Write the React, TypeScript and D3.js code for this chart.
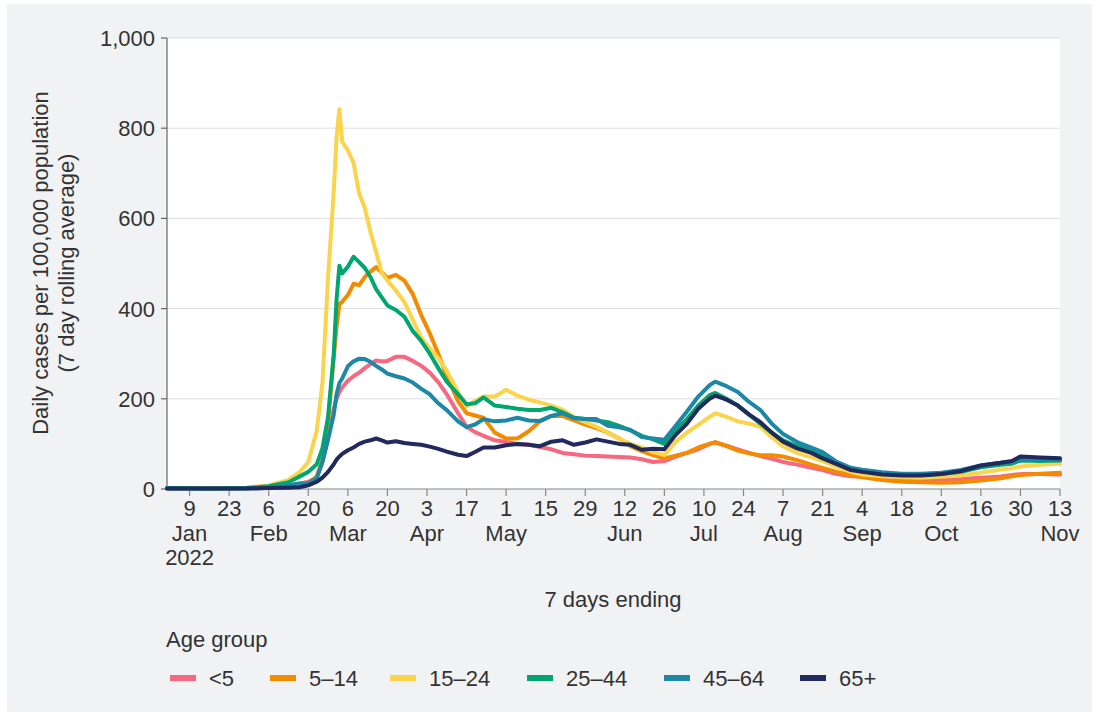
import React from "react";
import * as d3 from "d3";

const dates = ["2022-01-01","2022-01-15","2022-01-29",
"2022-02-06","2022-02-13","2022-02-17","2022-02-20","2022-02-23","2022-02-25","2022-02-27",
"2022-03-01","2022-03-02","2022-03-03","2022-03-04","2022-03-06","2022-03-08","2022-03-10","2022-03-12","2022-03-14","2022-03-16","2022-03-18","2022-03-20","2022-03-23","2022-03-26","2022-03-29",
"2022-04-01","2022-04-04","2022-04-07","2022-04-10","2022-04-14","2022-04-17","2022-04-20","2022-04-23","2022-04-27",
"2022-05-01","2022-05-05","2022-05-09","2022-05-13","2022-05-17","2022-05-21","2022-05-25","2022-05-29",
"2022-06-02","2022-06-06","2022-06-10","2022-06-14","2022-06-18","2022-06-22","2022-06-26","2022-06-30",
"2022-07-04","2022-07-08","2022-07-12","2022-07-14","2022-07-18","2022-07-22","2022-07-26","2022-07-30",
"2022-08-03","2022-08-07","2022-08-12","2022-08-17","2022-08-21","2022-08-26","2022-08-31",
"2022-09-04","2022-09-11","2022-09-18","2022-09-25",
"2022-10-02","2022-10-09","2022-10-16","2022-10-23","2022-10-27","2022-10-30",
"2022-11-06","2022-11-13"];

const under5 = [1,1,2,
4,8,12,16,25,60,115,
178,200,215,225,240,250,258,268,277,285,283,284,293,293,284,
273,258,237,210,168,138,126,118,108,
104,100,98,93,88,80,77,74,
73,72,71,70,66,60,62,72,
80,88,100,103,96,88,80,73,
67,60,54,47,42,33,28,
27,24,22,20,
20,22,25,28,31,33,
33,32];

const age5to14 = [2,1,2,
4,8,11,13,28,65,150,
290,360,410,415,430,455,452,470,482,492,480,468,475,462,432,
385,345,300,250,195,168,163,158,125,
112,112,128,150,162,162,152,143,
135,125,112,95,84,75,68,74,
80,92,100,104,95,85,79,75,
75,72,64,54,47,38,31,
26,20,16,15,
14,15,19,24,28,31,
34,36];

const age15to24 = [3,2,3,
8,20,38,60,130,235,470,
660,780,842,770,751,723,655,623,570,525,479,462,440,415,375,
335,312,290,262,215,183,195,205,205,
220,207,198,192,185,176,160,148,
138,125,112,100,92,82,75,105,
125,142,160,168,160,150,145,138,
115,95,80,70,62,49,38,
32,28,26,25,
27,30,36,43,46,50,
54,56];

const age25to44 = [2,1,2,
6,15,28,38,55,90,160,
300,420,495,478,493,515,503,490,470,443,425,407,397,382,350,
328,300,268,238,210,188,190,203,185,
182,178,175,175,180,170,158,155,
152,148,140,130,118,110,100,130,
155,185,208,213,200,185,165,145,
125,108,95,85,75,58,45,
40,34,31,31,
33,38,48,54,56,63,
62,63];

const age45to64 = [1,1,1,
3,8,12,13,24,60,110,
165,210,235,245,272,283,289,288,282,273,265,256,250,245,236,
222,210,190,175,150,137,143,155,150,
152,158,152,151,162,168,157,155,
155,140,137,131,115,112,109,140,
172,205,230,238,228,215,193,175,
145,122,104,92,82,60,47,
43,37,34,34,
36,42,52,58,60,66,
65,64];

const age65plus = [1,1,1,
2,3,4,8,16,25,38,
55,65,72,78,86,92,100,105,108,112,108,103,106,102,100,
98,94,89,83,76,73,82,92,92,
97,100,98,95,105,108,98,103,
110,105,100,98,87,89,88,120,
145,178,200,207,198,185,165,148,
125,105,90,80,68,55,42,
38,32,30,30,
33,40,52,58,62,72,
70,68];

const seriesNames = ["<5", "5\u201314", "15\u201324", "25\u201344", "45\u201364", "65+"];
const seriesColors = ["#f6687f", "#f28b00", "#fbd44b", "#00a66f", "#1d87a6", "#212a5c"];
const seriesValues = [under5, age5to14, age15to24, age25to44, age45to64, age65plus];

const yTicks = [0, 200, 400, 600, 800, 1000];
const xTickDates = ["2022-01-09","2022-01-23","2022-02-06","2022-02-20","2022-03-06","2022-03-20","2022-04-03","2022-04-17","2022-05-01","2022-05-15","2022-05-29","2022-06-12","2022-06-26","2022-07-10","2022-07-24","2022-08-07","2022-08-21","2022-09-04","2022-09-18","2022-10-02","2022-10-16","2022-10-30","2022-11-13"];
const monthLabels = ["Jan","Feb","Mar","Apr","May","Jun","Jul","Aug","Sep","Oct","Nov"];

const FONT = "'Liberation Sans', Arial, Helvetica, sans-serif";

export default function App() {
  const W = 1099, H = 713;
  const left = 167, right = 1060, top = 38, bottom = 489;
  const parse = d3.utcParse("%Y-%m-%d");
  const x = d3.scaleUtc().domain([parse("2022-01-01")!, parse("2022-11-13")!]).range([left, right]);
  const y = d3.scaleLinear().domain([0, 1000]).range([bottom, top]);
  const parsedDates = dates.map((d) => parse(d)!);
  const line = d3.line<number>().x((_, i) => x(parsedDates[i])).y((v) => y(v));

  const seenMonths = new Set<number>();
  const textColor = "#333";
  const legendX = [170, 270, 390, 527, 664, 800];

  return (
    <svg width={W} height={H} style={{ position: "absolute", left: 0, top: 0, fontFamily: FONT }}>
      <rect x={0} y={0} width={W} height={H} fill="#ffffff" />
      <rect x={7} y={4} width={1085} height={708} fill="#f1f2f4" />
      <rect x={left} y={top} width={right - left} height={bottom - top} fill="#ffffff" />
      {yTicks.filter((t) => t > 0).map((t) => (
        <line key={"g" + t} x1={left} x2={right} y1={y(t)} y2={y(t)} stroke="#dedede" strokeWidth={1} />
      ))}
      <line x1={left} x2={left} y1={top} y2={bottom} stroke="#666" strokeWidth={1.2} />
      {yTicks.map((t) => (
        <g key={"yt" + t}>
          <line x1={left - 6} x2={left} y1={y(t)} y2={y(t)} stroke="#666" strokeWidth={1.2} />
          <text x={left - 12} y={y(t)} dy="0.36em" textAnchor="end" fontSize={22} fill={textColor}>
            {d3.format(",")(t)}
          </text>
        </g>
      ))}
      <line x1={left} x2={right} y1={bottom} y2={bottom} stroke="#888" strokeWidth={1.2} />
      {xTickDates.map((ds) => {
        const d = parse(ds)!;
        const m = d.getUTCMonth();
        const first = !seenMonths.has(m);
        seenMonths.add(m);
        const xp = x(d);
        return (
          <g key={ds}>
            <line x1={xp} x2={xp} y1={bottom} y2={bottom + 7} stroke="#888" strokeWidth={1.2} />
            <text x={xp} y={516} textAnchor="middle" fontSize={22} fill={textColor}>{d.getUTCDate()}</text>
            {first && (
              <text x={xp} y={541} textAnchor="middle" fontSize={22} fill={textColor}>{monthLabels[m]}</text>
            )}
            {first && m === 0 && (
              <text x={xp} y={565} textAnchor="middle" fontSize={22} fill={textColor}>2022</text>
            )}
          </g>
        );
      })}
      <text transform="rotate(-90)" x={-263} y={48} textAnchor="middle" fontSize={22} fill={textColor}>
        Daily cases per 100,000 population
      </text>
      <text transform="rotate(-90)" x={-263} y={74} textAnchor="middle" fontSize={22} fill={textColor}>
        (7 day rolling average)
      </text>
      <text x={613} y={607} textAnchor="middle" fontSize={22} fill={textColor}>7 days ending</text>
      {seriesValues.map((vals, i) => (
        <path key={seriesNames[i]} d={line(vals) || ""} fill="none" stroke={seriesColors[i]}
          strokeWidth={4} strokeLinejoin="round" strokeLinecap="round" />
      ))}
      <text x={166} y={647} fontSize={22} fill={textColor}>Age group</text>
      {seriesNames.map((n, i) => (
        <g key={"lg" + n}>
          <rect x={legendX[i]} y={675} width={26} height={6} fill={seriesColors[i]} />
          <text x={legendX[i] + 39} y={686} fontSize={22} fill={textColor}>{n}</text>
        </g>
      ))}
    </svg>
  );
}
